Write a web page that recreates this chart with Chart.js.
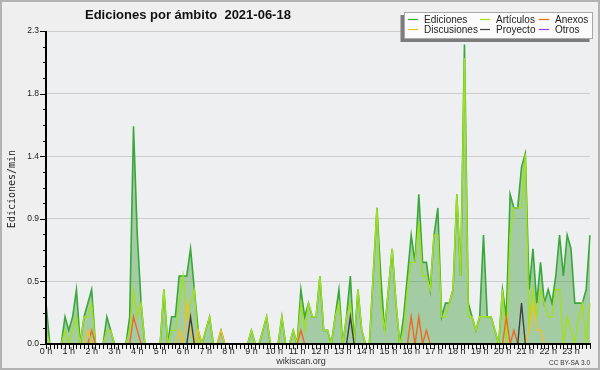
<!DOCTYPE html>
<html>
<head>
<meta charset="utf-8">
<title>Ediciones por ámbito 2021-06-18</title>
<script src="https://cdn.jsdelivr.net/npm/chart.js@4.4.1/dist/chart.umd.min.js"></script>
<style>
    html, body { margin: 0; padding: 0; background: #efefef; }
    canvas { display: block; }
</style>
</head>
<body>
<canvas id="chart" width="600" height="370"></canvas>
<script>
// Ediciones por ámbito - wikiscan, 2021-06-18 (ediciones/min, franjas de 10 min)

const hourLabels = ['0 h', '1 h', '2 h', '3 h', '4 h', '5 h', '6 h', '7 h', '8 h', '9 h', '10 h', '11 h',
    '12 h', '13 h', '14 h', '15 h', '16 h', '17 h', '18 h', '19 h', '20 h', '21 h', '22 h', '23 h'];

// one category per 10 minute slot
const slotLabels = [];
for (let h = 0; h < 24; h++) {
    for (let m = 0; m < 60; m += 10) {
        slotLabels.push(h + ':' + String(m).padStart(2, '0'));
    }
}

const yTicks = [0, 0.46, 0.92, 1.38, 1.84, 2.3];

// one row per hour
const ediciones = [
    0.3, 0, 0, 0, 0, 0.2,
    0.1, 0.2, 0.4, 0, 0.2, 0.3,
    0.4, 0, 0, 0, 0.2, 0.1,
    0, 0, 0, 0, 0.2, 1.6,
    0.8, 0.3, 0, 0, 0, 0,
    0, 0.4, 0, 0.2, 0.2, 0.5,
    0.5, 0.5, 0.7, 0.4, 0.1, 0,
    0.1, 0.2, 0, 0, 0.1, 0,
    0, 0, 0, 0, 0, 0,
    0.1, 0, 0, 0.1, 0.2, 0,
    0, 0, 0.2, 0, 0, 0.1,
    0, 0.4, 0.2, 0.3, 0.2, 0.2,
    0.5, 0.1, 0.1, 0, 0.2, 0.4,
    0, 0.2, 0.5, 0, 0.4, 0.1,
    0, 0, 0.5, 1.0, 0.5, 0.1,
    0.4, 0.7, 0.3, 0, 0.2, 0.5,
    0.8, 0.6, 1.1, 0.6, 0.6, 0.4,
    0.8, 1.0, 0.2, 0.3, 0.3, 0.4,
    1.1, 0.5, 2.2, 0.3, 0.2, 0.1,
    0.2, 0.8, 0.2, 0.2, 0.1, 0,
    0.4, 0.2, 1.1, 1.0, 1.0, 1.3,
    1.4, 0.4, 0.7, 0.3, 0.6, 0.3,
    0.4, 0.3, 0.5, 0.8, 0.5, 0.8,
    0.7, 0.3, 0.3, 0.3, 0.4, 0.8
];

const articulos = [
    0.1, 0, 0, 0, 0, 0.1,
    0, 0.1, 0.2, 0, 0.2, 0.2,
    0.3, 0, 0, 0, 0.1, 0.1,
    0, 0, 0, 0, 0.1, 0.4,
    0.2, 0.3, 0, 0, 0, 0,
    0, 0.4, 0, 0.1, 0.1, 0.3,
    0.5, 0.2, 0.3, 0.4, 0, 0,
    0.1, 0.2, 0, 0, 0, 0,
    0, 0, 0, 0, 0, 0,
    0.1, 0, 0, 0.1, 0.2, 0,
    0, 0, 0.2, 0, 0, 0.1,
    0, 0.3, 0.1, 0.3, 0.2, 0.2,
    0.5, 0.1, 0.1, 0, 0.2, 0.3,
    0, 0.2, 0.3, 0, 0.4, 0.1,
    0, 0, 0.5, 1.0, 0.3, 0.1,
    0.4, 0.7, 0.3, 0, 0.1, 0.4,
    0.6, 0.6, 0.9, 0.5, 0.5, 0.4,
    0.8, 0.8, 0.2, 0.2, 0.3, 0.4,
    1.1, 0.5, 2.1, 0.2, 0.2, 0.1,
    0.2, 0.2, 0.2, 0.2, 0.1, 0,
    0.4, 0, 0.8, 1.0, 1.0, 1.0,
    1.4, 0.1, 0.4, 0.2, 0.4, 0.3,
    0.2, 0.2, 0.4, 0.4, 0, 0.2,
    0.1, 0, 0.2, 0.3, 0, 0.3
];

const anexos = [
    0, 0, 0, 0, 0, 0,
    0, 0, 0, 0, 0, 0,
    0.1, 0, 0, 0, 0, 0,
    0, 0, 0, 0, 0, 0.2,
    0.1, 0, 0, 0, 0, 0,
    0, 0, 0, 0, 0, 0,
    0, 0, 0, 0, 0, 0,
    0, 0, 0, 0, 0, 0,
    0, 0, 0, 0, 0, 0,
    0, 0, 0, 0, 0, 0,
    0, 0, 0, 0, 0, 0,
    0, 0.1, 0, 0, 0, 0,
    0, 0, 0, 0, 0, 0,
    0, 0, 0, 0, 0, 0,
    0, 0, 0, 0, 0, 0,
    0, 0, 0, 0, 0, 0,
    0.2, 0, 0.2, 0, 0.1, 0,
    0, 0, 0, 0, 0, 0,
    0, 0, 0, 0, 0, 0,
    0, 0, 0, 0, 0, 0,
    0, 0.2, 0, 0.1, 0, 0,
    0, 0, 0, 0, 0, 0,
    0, 0, 0, 0, 0, 0,
    0, 0, 0, 0, 0, 0
];

const discusiones = [
    0, 0, 0, 0, 0, 0,
    0, 0, 0, 0, 0, 0.1,
    0, 0, 0, 0, 0, 0,
    0, 0, 0, 0, 0, 0,
    0, 0, 0, 0, 0, 0,
    0, 0, 0, 0, 0, 0.1,
    0, 0.3, 0.1, 0, 0.1, 0,
    0, 0, 0, 0, 0.1, 0,
    0, 0, 0, 0, 0, 0,
    0, 0, 0, 0, 0, 0,
    0, 0, 0, 0, 0, 0,
    0, 0, 0, 0, 0, 0,
    0, 0, 0, 0, 0, 0,
    0, 0, 0, 0, 0, 0,
    0, 0, 0, 0, 0, 0,
    0, 0, 0, 0, 0, 0,
    0, 0, 0, 0, 0, 0,
    0, 0, 0, 0, 0, 0,
    0, 0, 0, 0, 0, 0,
    0, 0, 0, 0, 0, 0,
    0, 0, 0, 0, 0, 0,
    0, 0.1, 0.3, 0.1, 0.1, 0,
    0, 0, 0, 0, 0, 0,
    0, 0, 0, 0, 0, 0
];

const proyecto = [
    0, 0, 0, 0, 0, 0,
    0, 0, 0, 0, 0, 0,
    0, 0, 0, 0, 0, 0,
    0, 0, 0, 0, 0, 0,
    0, 0, 0, 0, 0, 0,
    0, 0, 0, 0, 0, 0,
    0, 0, 0.2, 0, 0, 0,
    0, 0, 0, 0, 0, 0,
    0, 0, 0, 0, 0, 0,
    0, 0, 0, 0, 0, 0,
    0, 0, 0, 0, 0, 0,
    0, 0, 0, 0, 0, 0,
    0, 0, 0, 0, 0, 0,
    0, 0, 0.2, 0, 0, 0,
    0, 0, 0, 0, 0, 0,
    0, 0, 0, 0, 0, 0,
    0, 0, 0, 0, 0, 0,
    0, 0, 0, 0, 0, 0,
    0, 0, 0, 0, 0, 0,
    0, 0, 0, 0, 0, 0,
    0, 0, 0, 0, 0, 0.3,
    0, 0, 0, 0, 0, 0,
    0, 0, 0, 0, 0, 0,
    0, 0, 0, 0, 0, 0
];

const otros = [
    0, 0, 0, 0, 0, 0,   0, 0, 0, 0, 0, 0,   0, 0, 0, 0, 0, 0,   0, 0, 0, 0, 0, 0,
    0, 0, 0, 0, 0, 0,   0, 0, 0, 0, 0, 0,   0, 0, 0, 0, 0, 0,   0, 0, 0, 0, 0, 0,
    0, 0, 0, 0, 0, 0,   0, 0, 0, 0, 0, 0,   0, 0, 0, 0, 0, 0,   0, 0, 0, 0, 0, 0,
    0, 0, 0, 0, 0, 0,   0, 0, 0, 0, 0, 0,   0, 0, 0, 0, 0, 0,   0, 0, 0, 0, 0, 0,
    0, 0, 0, 0, 0, 0,   0, 0, 0, 0, 0, 0,   0, 0, 0, 0, 0, 0,   0, 0, 0, 0, 0, 0,
    0, 0, 0, 0, 0, 0,   0, 0, 0, 0, 0, 0,   0, 0, 0, 0, 0, 0,   0, 0, 0, 0, 0, 0
];

const seriesNames = ['Ediciones', 'Artículos', 'Anexos', 'Discusiones', 'Proyecto', 'Otros'];
const seriesValues = [ediciones, articulos, anexos, discusiones, proyecto, otros];
const seriesColors = ['#38a838', '#a2e01c', '#ee6a22', '#f2c024', '#404040', '#9a3ee6'];

const smallFont = '"Liberation Sans Narrow", "Liberation Sans", sans-serif';

// pChart style decorations: backgrounds, axes with sub ticks, title, legend box, credits
const decor = {
    id: 'decor',
    beforeDraw(chart) {
        const { ctx, chartArea: a } = chart;
        ctx.save();
        ctx.fillStyle = '#efefef';
        ctx.fillRect(0, 0, chart.width, chart.height);
        ctx.fillStyle = '#eeeff1';
        ctx.fillRect(a.left, a.top, a.right - a.left, a.bottom - a.top);
        ctx.restore();
    },
    afterDatasetsDraw(chart) {
        const { ctx, chartArea: a } = chart;
        const xs = chart.scales.x, ys = chart.scales.y;
        const line = (x1, y1, x2, y2) => {
            ctx.beginPath();
            ctx.moveTo(x1, y1);
            ctx.lineTo(x2, y2);
            ctx.stroke();
        };
        ctx.save();
        ctx.strokeStyle = '#000';
        ctx.lineWidth = 1;
        // y ticks: long ones on labels, 3 short ones between
        for (let k = 0; k < yTicks.length; k++) {
            const py = Math.round(ys.getPixelForValue(yTicks[k])) + 0.5;
            line(a.left - 6, py, a.left, py);
            if (k < yTicks.length - 1) {
                for (let s = 1; s < 4; s++) {
                    const v = yTicks[k] + (yTicks[k + 1] - yTicks[k]) * s / 4;
                    const pm = Math.round(ys.getPixelForValue(v)) + 0.5;
                    line(a.left - 3, pm, a.left, pm);
                }
            }
        }
        // x ticks: one per slot
        slotLabels.forEach((_, i) => {
            const px = Math.round(xs.getPixelForValue(i)) + 0.5;
            line(px, a.bottom, px, a.bottom + 5);
        });
        // axis lines on top of the zero lines
        ctx.lineWidth = 2;
        line(a.left, a.top, a.left, a.bottom + 1);
        line(a.left - 1, a.bottom, a.right + 1, a.bottom);
        ctx.restore();
    },
    afterDraw(chart) {
        const ctx = chart.ctx;
        ctx.save();

        // title
        ctx.fillStyle = '#111';
        ctx.font = 'bold 13px "Liberation Sans", sans-serif';
        ctx.textAlign = 'left';
        ctx.textBaseline = 'alphabetic';
        ctx.fillText('Ediciones por ámbito  2021-06-18', 85, 18.5);

        // y axis title
        ctx.save();
        ctx.translate(12, 189);
        ctx.rotate(-Math.PI / 2);
        ctx.font = '10px "DejaVu Sans Mono", monospace';
        ctx.textAlign = 'center';
        ctx.textBaseline = 'middle';
        ctx.fillStyle = '#222';
        ctx.fillText('Ediciones/min', 0, 0);
        ctx.restore();

        // legend box with shadow
        ctx.fillStyle = '#7c7c7c';
        ctx.fillRect(400.5, 15, 189, 27);
        ctx.fillStyle = '#fbfbfb';
        ctx.fillRect(404, 12, 189, 26.5);
        ctx.strokeStyle = '#a8a8a8';
        ctx.lineWidth = 1;
        ctx.strokeRect(404.5, 12.5, 188, 26);

        const colX = [408, 480, 539];
        const rowY = [19.5, 29.5];
        ctx.font = '10px "Liberation Sans", sans-serif';
        ctx.textBaseline = 'middle';
        chart.data.datasets.forEach((ds, i) => {
            const cx = colX[i % 3], cy = rowY[Math.floor(i / 3)];
            ctx.strokeStyle = ds.borderColor;
            ctx.lineWidth = 1.2;
            ctx.beginPath();
            ctx.moveTo(cx, cy);
            ctx.lineTo(cx + 10, cy);
            ctx.stroke();
            ctx.fillStyle = '#222';
            ctx.fillText(ds.label, cx + 16, cy + 0.5);
        });

        // credits
        ctx.fillStyle = '#333';
        ctx.textBaseline = 'alphabetic';
        ctx.textAlign = 'center';
        ctx.font = '9px "Liberation Sans", sans-serif';
        ctx.fillText('wikiscan.org', 301, 364);
        ctx.textAlign = 'right';
        ctx.font = '6.5px "Liberation Sans", sans-serif';
        ctx.fillText('CC BY-SA 3.0', 590, 365);

        // frame
        ctx.strokeStyle = '#b2b2b2';
        ctx.lineWidth = 2;
        ctx.strokeRect(1, 1, chart.width - 2, chart.height - 2);
        ctx.restore();
    }
};

const datasets = seriesNames.map((name, i) => ({
    label: name,
    data: seriesValues[i],
    borderColor: seriesColors[i],
    borderWidth: i === 0 ? 1.6 : 1.4,
    backgroundColor: i === 0 ? 'rgba(70, 160, 70, 0.45)' : 'transparent',
    fill: i === 0 ? 'origin' : false,
    pointRadius: 0,
    tension: 0,
    // first series at the bottom, later ones drawn over it
    order: seriesNames.length - i
}));

new Chart(document.getElementById('chart'), {
    type: 'line',
    data: { labels: slotLabels, datasets: datasets },
    options: {
        responsive: false,
        animation: false,
        devicePixelRatio: 1,
        layout: { padding: { left: 0, top: 31, right: 10, bottom: 0 } },
        plugins: {
            legend: { display: false },
            tooltip: { enabled: false }
        },
        scales: {
            x: {
                type: 'category',
                offset: false,
                grid: { display: false, drawTicks: false },
                border: { display: false },
                afterBuildTicks: s => { s.ticks = s.ticks.filter(t => t.value % 6 === 0); },
                afterFit: s => { s.height = 26; },
                ticks: {
                    autoSkip: false,
                    maxRotation: 0,
                    minRotation: 0,
                    padding: 2,
                    color: '#222',
                    font: { family: smallFont, size: 9 },
                    callback: v => hourLabels[v / 6]
                }
            },
            y: {
                min: 0,
                max: 2.3,
                grid: { color: '#cdcdcd', lineWidth: 1, drawTicks: false },
                border: { display: false },
                afterBuildTicks: s => { s.ticks = yTicks.map(v => ({ value: v })); },
                afterFit: s => { s.width = 46; },
                ticks: {
                    padding: 7,
                    color: '#222',
                    font: { family: '"Liberation Sans", sans-serif', size: 8.5 },
                    callback: v => v.toFixed(1)
                }
            }
        }
    },
    plugins: [decor]
});
</script>
</body>
</html>
